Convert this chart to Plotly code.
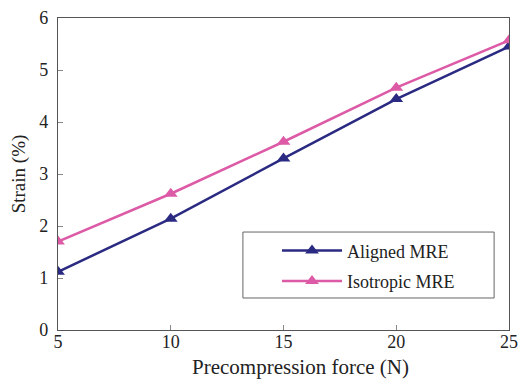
import plotly.graph_objects as go

force = [5, 10, 15, 20, 25]
aligned = [1.12, 2.14, 3.30, 4.44, 5.45]
isotropic = [1.70, 2.62, 3.62, 4.66, 5.57]
x_ticks = [5, 10, 15, 20, 25]
y_ticks = [0, 1, 2, 3, 4, 5, 6]

serif = "Liberation Serif, Times New Roman, serif"
ink = "#222222"

fig = go.Figure()
fig.add_trace(go.Scatter(
    x=force, y=aligned, name="Aligned MRE", mode="lines+markers",
    legendgroup="a",
    line=dict(color="#2a2a82", width=2.5),
    marker=dict(symbol="triangle-up", size=12, color="#2a2a82"),
))
fig.add_trace(go.Scatter(
    x=force, y=isotropic, name="Isotropic MRE", mode="lines+markers",
    legendgroup="b",
    line=dict(color="#dc5aa6", width=2.5),
    marker=dict(symbol="triangle-up", size=12, color="#dc5aa6"),
))

axis_common = dict(
    showline=True, linecolor="#555555", linewidth=1.3, mirror=True,
    ticks="inside", ticklen=5, tickcolor="#888888", tickwidth=1,
    showgrid=False, zeroline=False, automargin=False,
    tickfont=dict(family=serif, size=18, color=ink),
)

fig.update_xaxes(
    range=[5, 25], tickvals=x_ticks, ticktext=[str(v) for v in x_ticks],
    ticklabelstandoff=-5,
    **axis_common,
)
fig.update_yaxes(
    range=[0, 6], tickvals=y_ticks, ticktext=[str(v) for v in y_ticks],
    ticklabelstandoff=5,
    title=dict(text="Strain (%)", font=dict(family=serif, size=19, color=ink), standoff=8),
    **axis_common,
)

# x-axis title placed as an annotation so it can sit right of centre
fig.add_annotation(
    text="Precompression force (N)", xref="paper", yref="paper",
    x=0.537, y=-0.117, xanchor="center", yanchor="middle", showarrow=False,
    font=dict(family=serif, size=21, color=ink),
)

# legend frame
fig.add_shape(
    type="rect", xref="paper", yref="paper",
    x0=0.410, x1=0.967, y0=0.1026, y1=0.314,
    line=dict(color="#666666", width=1), fillcolor="white", layer="below",
)

fig.update_layout(
    width=519, height=379,
    margin=dict(l=58, r=10, t=18, b=49),
    paper_bgcolor="white", plot_bgcolor="white",
    legend=dict(
        x=0.4856, y=0.313, xanchor="left", yanchor="top",
        borderwidth=0, bgcolor="rgba(0,0,0,0)",
        font=dict(family=serif, size=18, color=ink),
        itemwidth=60, tracegroupgap=4,
    ),
)

fig.write_html("out.html")
